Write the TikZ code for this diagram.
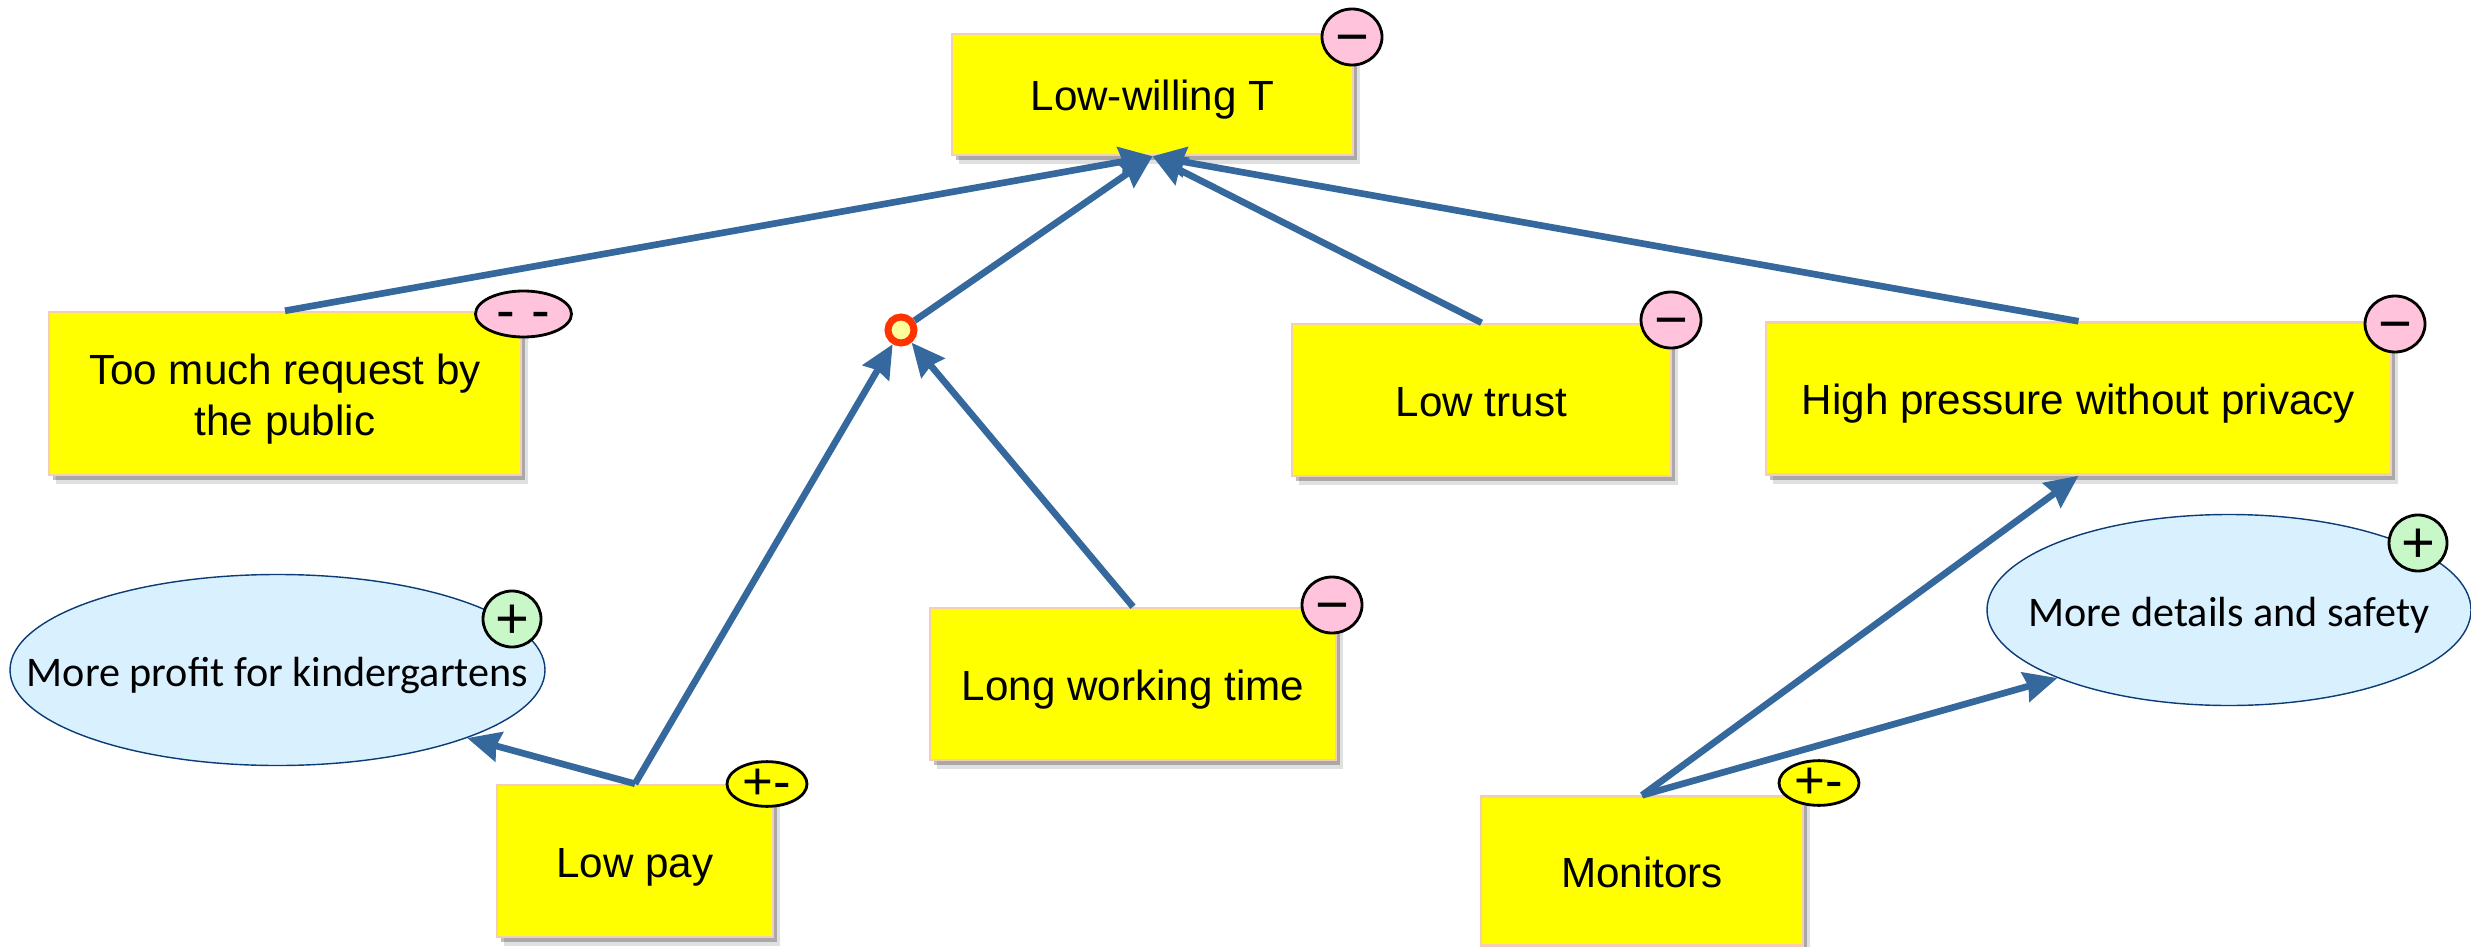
\documentclass[tikz,border=0pt]{standalone}
\usepackage{fontspec}
\setmainfont{Liberation Sans}
\newfontfamily\ovalfont{Carlito}
\usepackage{xcolor}
\usetikzlibrary{
    shapes,
    shadows,
    arrows.meta
}
\definecolor{boxyellow}{HTML}{FFFF00}
\definecolor{linkblue}{HTML}{35689C}
\definecolor{boxedge}{HTML}{F4CDB4}
\definecolor{ovalfill}{HTML}{D9F0FF}
\definecolor{ovaledge}{HTML}{0B3C75}
\definecolor{badgepink}{HTML}{FFC4DC}
\definecolor{badgegreen}{HTML}{C8F7C8}
\definecolor{junctionred}{HTML}{FF3300}
\definecolor{junctionfill}{HTML}{FFFF99}

\begin{document}
\begin{tikzpicture}
                  \useasboundingbox (0,0) rectangle (24.71,9.46);

                  % Define box, oval, badge and arrow styles:
                  \tikzset{
                        factor/.style={rectangle, draw=boxedge, line width=0.7pt, fill=boxyellow, inner sep=0pt, align=center,
                              font=\fontsize{12}{14.5}\selectfont,
                              drop shadow={shadow xshift=0.07cm, shadow yshift=-0.09cm, fill=black, opacity=0.12},
                              drop shadow={shadow xshift=0.04cm, shadow yshift=-0.05cm, fill=black, opacity=0.25}},
                        factor_line/.style={factor, text height=0.32cm, text depth=0pt},
                        outcome/.style={ellipse, draw=ovaledge, line width=0.4pt, fill=ovalfill, inner sep=0pt,
                              text height=0.32cm, text depth=0pt, font=\ovalfont\fontsize{12}{14.5}\selectfont},
                        badge/.style={ellipse, draw=black, line width=0.8pt, inner sep=0pt, text height=10.9pt, text depth=0pt,
                              font=\fontsize{16.5}{16.5}\selectfont},
                        badge_neg/.style={badge, fill=badgepink, minimum width=0.6cm, minimum height=0.56cm},
                        badge_pos/.style={badge, fill=badgegreen, minimum width=0.58cm, minimum height=0.56cm},
                        badge_mix/.style={badge, fill=boxyellow, minimum width=0.8cm, minimum height=0.38cm, text height=9pt,
                              font=\fontsize{15}{15}\selectfont},
                        influence/.style={-{Stealth[length=3.3mm, width=3mm, inset=0.3mm]}, line width=1.9pt, linkblue}
                  };

                  % Top factor
                  \node[factor_line, minimum width=4.01cm, minimum height=1.21cm] (low_willing) at (11.525,8.515) {Low-willing T};

                  % Factors in the middle row
                  \node[factor, minimum width=4.72cm, minimum height=1.63cm] (too_much) at (2.85,5.525) {\rule{0pt}{12pt}Too much request by\\the public};
                  \node[factor_line, minimum width=3.79cm, minimum height=1.52cm] (low_trust) at (14.815,5.46) {Low trust};
                  \node[factor_line, minimum width=6.25cm, minimum height=1.52cm] (high_pressure) at (20.785,5.475) {High pressure without privacy};

                  % Factors in the bottom row
                  \node[factor_line, minimum width=2.76cm, minimum height=1.52cm] (low_pay) at (6.35,0.85) {Low pay};
                  \node[factor_line, minimum width=4.06cm, minimum height=1.52cm] (long_time) at (11.33,2.62) {Long working time};
                  \node[factor_line, minimum width=3.22cm, minimum height=1.49cm] (monitors) at (16.42,0.75) {Monitors};

                  % Side effects
                  \node[outcome, minimum width=5.35cm, minimum height=1.91cm] (more_profit) at (2.775,2.76) {\makebox[0pt]{More profit for kindergartens}};
                  \node[outcome, minimum width=4.84cm, minimum height=1.91cm] (more_details) at (22.29,3.36) {\makebox[0pt]{More details and safety}};

                  % Junction of pay and working time
                  \node[circle, draw=junctionred, line width=2pt, fill=junctionfill, minimum size=0.26cm, inner sep=0pt] (junction) at (9.01,6.16) {};

                  % Arrows
                  \draw[influence] (too_much.north) -- (low_willing.south);
                  \draw[influence] (junction) -- (low_willing.south);
                  \draw[influence] (low_trust.north) -- (low_willing.south);
                  \draw[influence] (high_pressure.north) -- (low_willing.south);
                  \draw[influence] (low_pay.north) -- (junction);
                  \draw[influence] (long_time.north) -- (junction);
                  \draw[influence] (low_pay.north) -- (more_profit.south east);
                  \draw[influence] (monitors.north) -- (high_pressure.south);
                  \draw[influence] (monitors.north) -- (more_details.south west);

                  % Sign badges at the corners
                  \node[badge_neg] (sign_willing) at (13.52,9.09) {−};
                  \node[badge_neg, minimum width=0.96cm, minimum height=0.46cm, text height=8.6pt, font=\fontsize{16}{16}\selectfont] (sign_much) at (5.235,6.32) {- -};
                  \node[badge_neg] (sign_trust) at (16.71,6.26) {−};
                  \node[badge_neg] (sign_pressure) at (23.95,6.22) {−};
                  \node[badge_neg] (sign_time) at (13.32,3.41) {−};
                  \node[badge_pos] (sign_profit) at (5.12,3.27) {+};
                  \node[badge_pos] (sign_details) at (24.18,4.03) {+};
                  \node[badge_mix] (sign_pay) at (7.67,1.62) {+-};
                  \node[badge_mix] (sign_monitors) at (18.19,1.63) {+-};
            \end{tikzpicture}
\end{document}
